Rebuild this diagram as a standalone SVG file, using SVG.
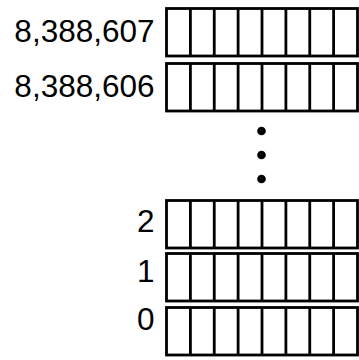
<svg xmlns="http://www.w3.org/2000/svg" width="359" height="360" viewBox="0 0 359 360">
<defs>
<style>
.lbl{font-family:"Liberation Sans",Arial,sans-serif;font-size:31.5px;fill:#000;text-anchor:end}
.box{fill:#fff;stroke:#000;stroke-width:2.8}
.div{stroke:#000;stroke-width:2.8}
</style>
<g id="cells">
<rect class="box" x="0" y="0" width="191" height="47.5"/>
<path class="div" d="M23.9,0V47.5M47.75,0V47.5M71.6,0V47.5M95.5,0V47.5M119.4,0V47.5M143.25,0V47.5M167.1,0V47.5"/>
</g>
</defs>
<rect width="359" height="360" fill="#fff"/>
<g id="row-8388607">
<use href="#cells" x="166.5" y="8.5"/>
<text class="lbl" x="154.5" y="41.5">8,388,607</text>
</g>
<g id="row-8388606">
<use href="#cells" x="166.5" y="63.5"/>
<text class="lbl" x="154.5" y="96.5">8,388,606</text>
</g>
<g id="ellipsis">
<circle cx="261.5" cy="131" r="4.3"/>
<circle cx="261.5" cy="155" r="4.3"/>
<circle cx="261.5" cy="179" r="4.3"/>
</g>
<g id="row-2">
<use href="#cells" x="166.5" y="200.5"/>
<text class="lbl" x="154.5" y="231.5">2</text>
</g>
<g id="row-1">
<use href="#cells" x="166.5" y="253.5"/>
<text class="lbl" x="154.5" y="282">1</text>
</g>
<g id="row-0">
<use href="#cells" x="166.5" y="307.5"/>
<text class="lbl" x="154.5" y="329.5">0</text>
</g>
<g id="connectors"/>
</svg>
